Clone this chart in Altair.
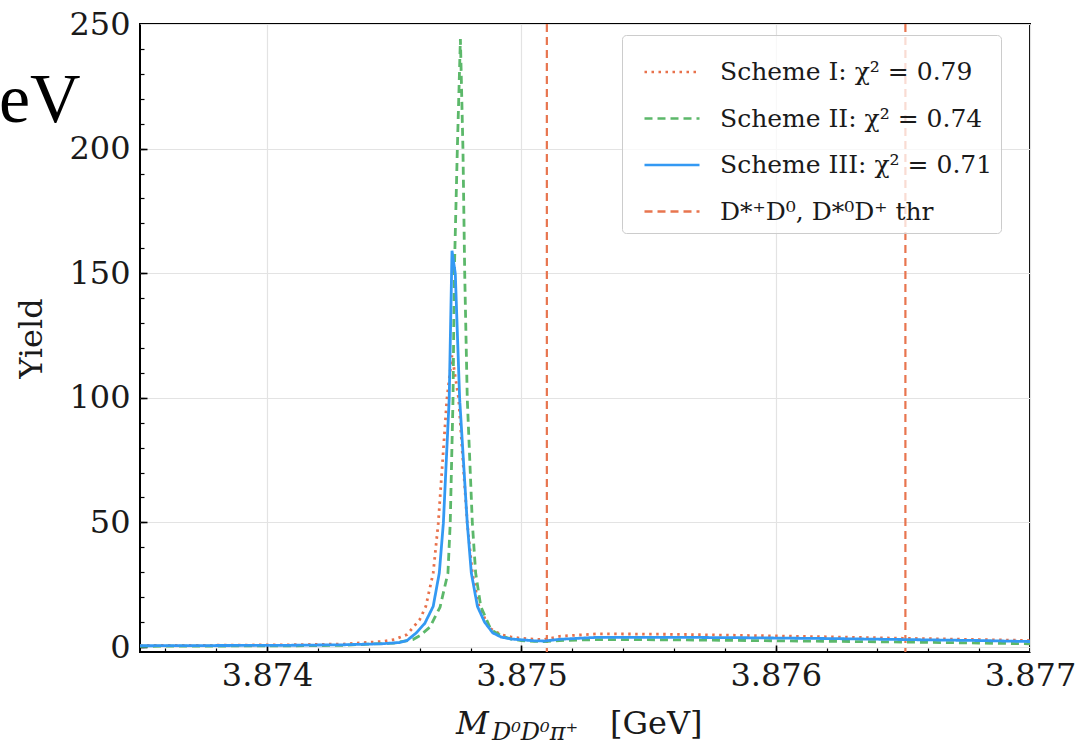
import altair as alt
import pandas as pd

# ---- data ----
SERIES = ["Scheme I: χ² = 0.79", "Scheme II: χ² = 0.74",
          "Scheme III: χ² = 0.71", "D*⁺D⁰, D*⁰D⁺ thr"]

x_s1 = [3.8735, 3.8738, 3.8741, 3.8743, 3.87445, 3.8745, 3.87455, 3.8746, 3.874624,
        3.874653, 3.874673, 3.874707, 3.874727, 3.874753, 3.874787, 3.874807,
        3.874833, 3.874875, 3.87492, 3.87496, 3.875, 3.87505, 3.87509, 3.87515,
        3.8753, 3.8756, 3.8759, 3.8762, 3.8765, 3.8768, 3.877]
y_s1 = [0.6, 0.7, 0.9, 1.2, 2.2, 3.0, 5.0, 11, 16.3, 29.7, 49.7, 99.7, 117, 99.7,
        49.7, 29.7, 16.3, 7.5, 5.0, 4.0, 3.5, 3.1, 3.0, 4.3, 5.3, 5.1, 4.6, 4.1,
        3.5, 3.0, 2.6]

x_s2 = [3.8735, 3.8738, 3.8741, 3.8743, 3.8745, 3.874573, 3.8746, 3.87464, 3.87468,
        3.874711, 3.87472, 3.874731, 3.874736, 3.874748, 3.87476, 3.87477, 3.874777,
        3.874787, 3.874807, 3.87482, 3.87484, 3.87488, 3.87492, 3.87496, 3.875,
        3.87505, 3.87509, 3.87515, 3.8753, 3.8756, 3.8759, 3.8762, 3.8765, 3.8768,
        3.877]
y_s2 = [0.3, 0.4, 0.5, 0.7, 1.6, 3.0, 4.5, 8.0, 16, 29.7, 49.7, 99.7, 149.7, 200,
        244, 200, 149.7, 99.7, 49.7, 29.7, 16.3, 7.0, 4.5, 3.2, 2.6, 2.3, 2.2, 2.6,
        3.0, 2.9, 2.6, 2.3, 2.0, 1.6, 1.3]

x_s3 = [3.8735, 3.8738, 3.8741, 3.8743, 3.87445, 3.87452, 3.87455, 3.874587, 3.87462,
        3.874653, 3.874677, 3.874693, 3.874716, 3.874727, 3.87474, 3.874757,
        3.874787, 3.874803, 3.874827, 3.874855, 3.874887, 3.87492, 3.87496, 3.875,
        3.87505, 3.87509, 3.87515, 3.8753, 3.8756, 3.8759, 3.8762, 3.8765, 3.8768,
        3.877]
y_s3 = [0.5, 0.6, 0.7, 0.9, 1.3, 1.8, 2.6, 5.7, 9.5, 16.3, 29.7, 49.7, 99.7, 159,
        149.7, 99.7, 49.7, 29.7, 16.3, 10, 5.7, 4.0, 3.2, 2.9, 2.5, 2.4, 3.1, 3.9,
        3.9, 3.7, 3.4, 3.0, 2.6, 2.2]

thresholds = [3.87510, 3.87651]

x_major = [3.874, 3.875, 3.876, 3.877]
x_minor = [3.8736, 3.8738, 3.874, 3.8742, 3.8744, 3.8746, 3.8748, 3.875, 3.8752,
           3.8754, 3.8756, 3.8758, 3.876, 3.8762, 3.8764, 3.8766, 3.8768]
y_major = [0, 50, 100, 150, 200, 250]
y_minor = [0, 10, 20, 30, 40, 50, 60, 70, 80, 90, 100, 110, 120, 130, 140, 150, 160,
           170, 180, 190, 200, 210, 220, 230, 240]

COLORS = ["#e8714b", "#5cb86a", "#3399f3", "#e8754f"]
DASHES = [[2.5, 4.5], [8, 5], [1, 0], [8, 5]]

rows = []
for name, xs, ys in [(SERIES[0], x_s1, y_s1), (SERIES[1], x_s2, y_s2), (SERIES[2], x_s3, y_s3)]:
    for a, b in zip(xs, ys):
        rows.append({"m": a, "yield": b, "series": name})
df = pd.DataFrame(rows)
thr_df = pd.DataFrame({"m": thresholds, "series": [SERIES[3]] * len(thresholds)})

FONT = "DejaVu Serif"
INK = "#1a1a1a"
W, H = 890, 628

xscale = alt.Scale(domain=[3.8735, 3.877], nice=False, zero=False)
yscale = alt.Scale(domain=[-2, 250], nice=False, zero=False)

leg = alt.Legend(title=None, orient="none", legendX=482, legendY=11,
                 labelFont=FONT, labelFontSize=25, labelColor=INK, labelLimit=400,
                 symbolType="stroke", symbolSize=3025, symbolStrokeWidth=2.5,
                 padding=8, rowPadding=4.5, labelOffset=19, symbolOffset=13,
                 strokeColor="#cccccc", fillColor="rgba(255,255,255,0.75)",
                 cornerRadius=4)

color = alt.Color("series:N", scale=alt.Scale(domain=SERIES, range=COLORS), legend=leg)
dash = alt.StrokeDash("series:N", scale=alt.Scale(domain=SERIES, range=DASHES), legend=leg)

main_x_axis = alt.Axis(values=x_major, format=".3f", title=None, labelFont=FONT,
                       labelFontSize=32, labelColor=INK, labelPadding=8, ticks=False,
                       domain=False, grid=True, gridColor="#e3e3e3", gridWidth=1.2,
                       labelFlush=False, labelOverlap=False, labelBound=False)
main_y_axis = alt.Axis(values=y_major, title="Yield", labelFont=FONT, labelFontSize=32,
                       labelColor=INK, labelPadding=10, ticks=False, domain=False,
                       grid=True, gridColor="#e3e3e3", gridWidth=1.2,
                       titleFont=FONT, titleFontSize=32, titleFontWeight="normal",
                       titleColor=INK, titlePadding=20, labelFlush=False,
                       labelOverlap=False)

rules = alt.Chart(thr_df).mark_rule(strokeWidth=2.2).encode(
    x=alt.X("m:Q", scale=xscale, axis=None),
    color=color, strokeDash=dash)

lines = alt.Chart(df).mark_line(strokeWidth=2.8, clip=True).encode(
    x=alt.X("m:Q", scale=xscale, axis=main_x_axis),
    y=alt.Y("yield:Q", scale=yscale, axis=main_y_axis),
    detail="series:N", color=color, strokeDash=dash)


def tick_layer(xvals, yvals, size, width):
    ax = alt.Axis(orient="bottom", values=xvals, offset=-size, tickSize=size,
                  tickWidth=width, tickColor="black", labels=False, domain=False,
                  grid=False, title=None)
    ay = alt.Axis(orient="left", values=yvals, offset=-size, tickSize=size,
                  tickWidth=width, tickColor="black", labels=False, domain=False,
                  grid=False, title=None)
    return alt.Chart(df).mark_point(opacity=0).encode(
        x=alt.X("m:Q", scale=xscale, axis=ax),
        y=alt.Y("yield:Q", scale=yscale, axis=ay))


minor_ticks = tick_layer(x_minor, y_minor, 4, 1.2)
major_ticks = tick_layer(x_major[:-1], y_major[:-1], 7, 1.6)

ann = pd.DataFrame({"t": ["eV"]})
ev = alt.Chart(ann).mark_text(font="Liberation Serif", fontSize=70, color="black",
                              align="left", baseline="alphabetic").encode(
    text="t:N", x=alt.value(-141), y=alt.value(98))

xt = pd.DataFrame({"t": ["M"]})
xt_m = alt.Chart(xt).mark_text(font=FONT, fontSize=32, fontStyle="italic", color=INK,
                               align="left", baseline="alphabetic").encode(
    text="t:N", x=alt.value(316), y=alt.value(710))
xs = pd.DataFrame({"t": ["D⁰D⁰π⁺"]})
xt_s = alt.Chart(xs).mark_text(font=FONT, fontSize=24, fontStyle="italic", color=INK,
                               align="left", baseline="alphabetic").encode(
    text="t:N", x=alt.value(352), y=alt.value(716))
xg = pd.DataFrame({"t": ["[GeV]"]})
xt_g = alt.Chart(xg).mark_text(font=FONT, fontSize=32, color=INK,
                               align="left", baseline="alphabetic").encode(
    text="t:N", x=alt.value(470), y=alt.value(710))

chart = alt.layer(rules, lines, minor_ticks, major_ticks, ev, xt_m, xt_s, xt_g).resolve_axis(
    x="independent", y="independent"
).properties(
    width=W, height=H,
    autosize=alt.AutoSizeParams(type="none"),
    padding={"left": 140, "top": 24, "right": 47, "bottom": 93},
    background="white",
).configure_view(stroke="black", strokeWidth=2)

chart.save("out.html", embed_options={"renderer": "svg", "actions": False})
